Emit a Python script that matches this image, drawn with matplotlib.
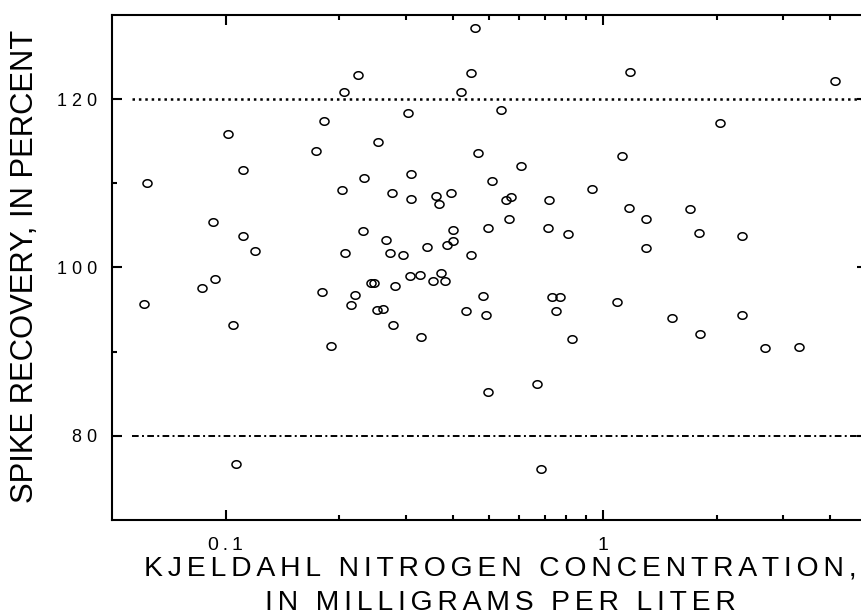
import numpy as np
import matplotlib
matplotlib.use("Agg")
import matplotlib.pyplot as plt
from matplotlib.path import Path
from matplotlib.ticker import FixedLocator, NullFormatter

plt.rcParams["font.family"] = ["Liberation Sans", "DejaVu Sans"]
plt.rcParams["lines.scale_dashes"] = False

# ── data: Kjeldahl nitrogen concentration (mg/L) vs spike recovery (%) ──
conc = [
    0.0618, 0.0608, 0.0925, 0.0866, 0.0937, 0.1017, 0.1067, 0.1048, 0.1109, 0.1109,
    0.1198, 0.1737, 0.1823, 0.1796, 0.1897, 0.2035, 0.2056, 0.2077, 0.2154, 0.2199,
    0.2248, 0.2306, 0.2327, 0.2428, 0.2466, 0.2514, 0.2618, 0.2530, 0.2653, 0.2731,
    0.2756, 0.2778, 0.2815, 0.2944, 0.3044, 0.3091, 0.3091, 0.3081, 0.3274, 0.3299,
    0.3422, 0.3599, 0.3684, 0.3722, 0.3540, 0.3809, 0.3862, 0.3952, 0.4010, 0.4012,
    0.4193, 0.4341, 0.4476, 0.4473, 0.4586, 0.4659, 0.4809, 0.4907, 0.4961, 0.4958,
    0.5090, 0.5361, 0.5543, 0.5711, 0.5642, 0.6046, 0.6699, 0.6830, 0.7158, 0.7184,
    0.7327, 0.7684, 0.7499, 0.8083, 0.8267, 0.9322, 1.086, 1.125, 1.168, 1.177,
    1.296, 1.300, 1.523, 1.697, 1.794, 1.807, 2.045, 2.328, 2.332, 2.683,
    3.311, 4.112,
]
recovery = [
    110.0, 95.7, 105.4, 97.6, 98.6, 115.9, 76.6, 93.2, 111.6, 103.8,
    102.0, 113.8, 117.4, 97.1, 90.7, 109.2, 120.9, 101.7, 95.6, 96.7,
    122.9, 104.3, 110.6, 98.2, 98.2, 95.0, 95.1, 114.9, 103.3, 101.7,
    108.8, 93.2, 97.8, 101.5, 118.4, 111.1, 108.1, 99.0, 99.1, 91.7,
    102.4, 108.5, 107.6, 99.4, 98.4, 98.4, 102.7, 108.8, 104.4, 103.2,
    120.9, 94.8, 123.1, 101.5, 128.4, 113.6, 96.6, 94.4, 85.2, 104.7,
    110.3, 118.7, 108.0, 108.4, 105.8, 112.0, 86.2, 76.1, 104.7, 108.0,
    96.5, 96.5, 94.8, 104.0, 91.5, 109.3, 95.9, 113.2, 107.1, 123.2,
    105.8, 102.3, 94.0, 107.0, 104.1, 92.1, 117.2, 94.4, 103.7, 90.4,
    90.6, 122.2,
]

upper_limit = 120
lower_limit = 80

x_major = [0.1, 1]
x_major_labels = ["0.1", "1"]
x_minor = [0.2, 0.3, 0.4, 0.5, 0.6, 0.7, 0.8, 0.9, 2, 3, 4]
y_major = [80, 100, 120]
y_minor = [90, 110]

THIN = "\u2009"
SIXTH = "\u2006"


def spaced(s, sep=THIN):
    return sep.join(s)


# slightly flattened open circle
t = np.linspace(0, 2 * np.pi, 64)
ellipse = Path(np.column_stack([1.2 * np.cos(t), np.sin(t)]), closed=True)

# ── plot ───────────────────────────────────────────────────────────────────
fig = plt.figure(figsize=(8.62, 6.14), dpi=100)
ax = fig.add_axes([0.1299, 0.1531, 0.8758, 0.8225])

ax.plot(conc, recovery, linestyle="none", marker=ellipse, markersize=6.5,
        markerfacecolor="none", markeredgecolor="black", markeredgewidth=1.1)

ax.hlines(upper_limit, 0.0565, 5, colors="black", linewidth=1.8,
          linestyles=[(0, (1.8, 2.8))])
ax.hlines(lower_limit, 0.0565, 5, colors="black", linewidth=1.4,
          linestyles=[(0, (4.8, 2.4, 1.4, 2.4))])

ax.set_xscale("log")
ax.set_xlim(0.05, 5)
ax.set_ylim(70, 130)

ax.xaxis.set_major_locator(FixedLocator(x_major))
ax.set_xticklabels([spaced(s) for s in x_major_labels])
ax.xaxis.set_minor_locator(FixedLocator(x_minor))
ax.xaxis.set_minor_formatter(NullFormatter())
ax.yaxis.set_major_locator(FixedLocator(y_major))
ax.set_yticklabels([spaced(str(v), " ") for v in y_major])
ax.yaxis.set_minor_locator(FixedLocator(y_minor))

ax.tick_params(which="both", direction="in", top=True, right=True, width=1.5)
ax.tick_params(which="major", length=7.2)
ax.tick_params(which="minor", length=3.6)
ax.tick_params(axis="x", which="major", labelsize=14, pad=12.5)
ax.tick_params(axis="y", which="major", labelsize=13, pad=10.5)

for s in ax.spines.values():
    s.set_linewidth(1.5)

xlab = (spaced("KJELDAHL NITROGEN CONCENTRATION,", SIXTH) + "\n"
        + spaced("IN MILLIGRAMS PER LITER", SIXTH))
ax.set_xlabel(xlab, fontsize=20.4, linespacing=1.42, va="top")
ax.xaxis.set_label_coords(0.514, -0.071)

ax.set_ylabel("SPIKE RECOVERY, IN PERCENT", fontsize=22.3, va="center")
ax.yaxis.set_label_coords(-0.1152, 0.503)

plt.savefig("out.png", dpi=100)
